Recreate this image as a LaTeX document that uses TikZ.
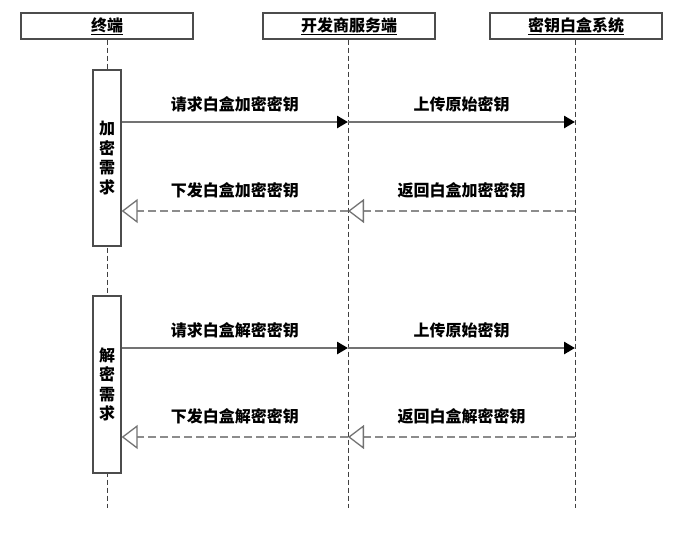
\documentclass[tikz,border=0pt]{standalone}
\usepackage{fontspec}
\setmainfont{Noto Sans CJK SC}
\usepackage{tikz}
\usetikzlibrary{arrows.meta,positioning}
\tikzstyle{actor}=[rectangle, draw=black!70, line width=1.3pt, fill=white, minimum width=172pt, minimum height=26pt, inner sep=0pt, font=\fontsize{16}{16}\selectfont\bfseries]
\tikzstyle{life}=[draw=black!75, line width=0.9pt, dash pattern=on 5pt off 3pt]
\tikzstyle{act}=[rectangle, draw=black!70, line width=1.3pt, fill=white, minimum width=28pt, inner sep=0pt, align=center, font=\fontsize{16}{19.5}\selectfont\bfseries]
\tikzstyle{call}=[draw=black!55, line width=2.6pt, -{Triangle[length=11pt,width=12pt,color=black]}]
\tikzstyle{reply}=[draw=black!45, line width=2.6pt, dash pattern=on 8pt off 4pt, -{Triangle[open,length=16pt,width=24pt,line width=1.3pt,color=black!55,fill=white]}]
\tikzstyle{msg}=[midway, inner sep=0pt, font=\fontsize{16}{16}\selectfont\bfseries]

\begin{document}
\begin{tikzpicture}[x=1pt, y=-1pt]
\useasboundingbox (0,0) rectangle (690,533);
% lifelines
\node [actor] (term) at (107,26) {\underline{终端}};
\node [actor] (dev) at (349,26) {\underline{开发商服务端}};
\node [actor] (wb) at (576,26) {\underline{密钥白盒系统}};
\coordinate (termEnd) at (107,508);
\coordinate (devEnd) at (348,508);
\coordinate (wbEnd) at (575,508);
\draw [life] (term.south) -- (termEnd);
\draw [life] (dev.south -| devEnd) -- (devEnd);
\draw [life] (wb.south -| wbEnd) -- (wbEnd);

% activations
\node [act, minimum height=176pt] (enc) at (107,158) {加\\密\\需\\求};
\node [act, minimum height=177pt] (dec) at (107,384.5) {解\\密\\需\\求};

% encryption
\coordinate (dev1) at (348,122);
\coordinate (wb1) at (575,122);
\coordinate (dev2) at (348,211);
\coordinate (wb2) at (575,211);
\draw [call] (enc.east |- dev1) -- (dev1) node [msg, above=9pt] {请求白盒加密密钥};
\draw [call] (dev1) -- (wb1) node [msg, above=9pt] {上传原始密钥};
\draw [reply] (wb2) -- (dev2) node [msg, above=12pt] {返回白盒加密密钥};
\draw [reply] (dev2) -- (enc.east |- dev2) node [msg, above=12pt] {下发白盒加密密钥};

% decryption
\coordinate (dev3) at (348,348);
\coordinate (wb3) at (575,348);
\coordinate (dev4) at (348,437);
\coordinate (wb4) at (575,437);
\draw [call] (dec.east |- dev3) -- (dev3) node [msg, above=9pt] {请求白盒解密密钥};
\draw [call] (dev3) -- (wb3) node [msg, above=9pt] {上传原始密钥};
\draw [reply] (wb4) -- (dev4) node [msg, above=12pt] {返回白盒解密密钥};
\draw [reply] (dev4) -- (dec.east |- dev4) node [msg, above=12pt] {下发白盒解密密钥};
\end{tikzpicture}
\end{document}
